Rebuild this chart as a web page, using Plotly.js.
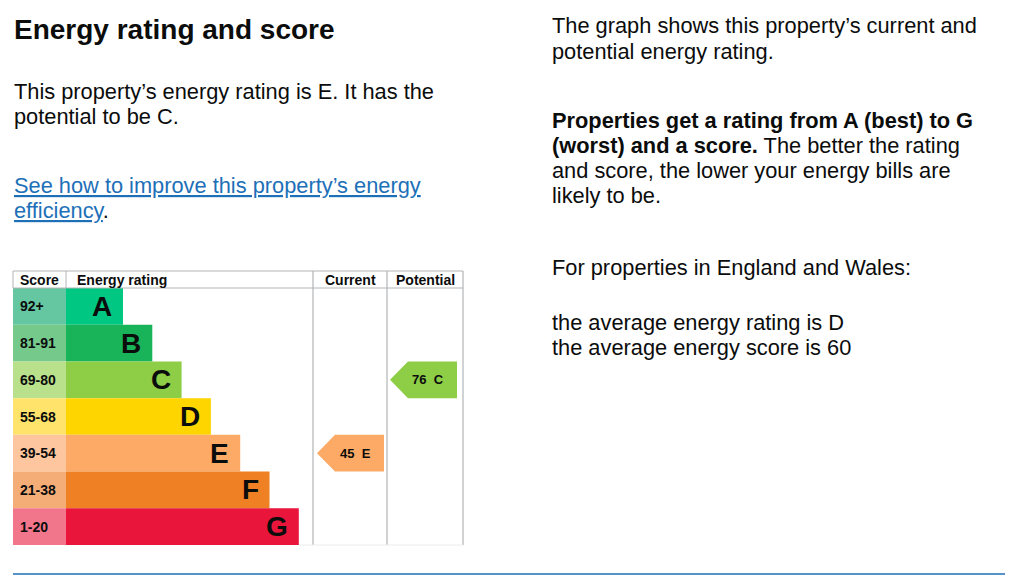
<!DOCTYPE html>
<html>
<head>
<meta charset="utf-8">
<script src="https://cdn.plot.ly/plotly-3.0.1.min.js"></script>
<style>
  html, body { margin: 0; padding: 0; background: #fff; }
  #chart { width: 1020px; height: 575px; }
</style>
</head>
<body>
<div id="chart"></div>
<script>
// ---- data ----
const ratings = ['A', 'B', 'C', 'D', 'E', 'F', 'G'];
const scoreBands = ['92+', '81-91', '69-80', '55-68', '39-54', '21-38', '1-20'];
const bandMin = [92, 81, 69, 55, 39, 21, 1];
const bandColours = ['#00c781', '#19b459', '#8dce46', '#ffd500', '#fcaa65', '#ef8023', '#e9153b'];
const scoreCellColours = ['#64c7a1', '#75c98b', '#b9e08a', '#ffe36b', '#fdc69e', '#f5ad78', '#f2768b'];
const currentScore = 45;
const potentialScore = 76;
const headers = ['Score', 'Energy rating', 'Current', 'Potential'];

// ---- layout constants (pixels) ----
const W = 1020, H = 575;
const FONT = 'Arial, "Liberation Sans", Helvetica, sans-serif';
const TXT = '#0b0c0c';
const GRID = '#b1b4b6';
const BODY = 21.8;
const tableLeft = 13, scoreRight = 66, curLeft = 313, potLeft = 387, tableRight = 463;
const tableTop = 271, headBottom = 288, tableBottom = 545;
const firstBar = 57, barStep = 29.3;

const py = v => 1 - v / H;

function bandIndex(score) {
  for (let i = 0; i < bandMin.length; i++) if (score >= bandMin[i]) return i;
  return bandMin.length - 1;
}
const rows = ratings.map((_, i) => i);
const barLen = rows.map(i => firstBar + barStep * i);

// ---- traces ----
const traces = [];
traces.push({
  type: 'bar', orientation: 'h', y: rows, x: rows.map(() => scoreRight - tableLeft),
  base: tableLeft, width: 1, marker: { color: scoreCellColours, line: { width: 0 } },
  hoverinfo: 'skip', showlegend: false
});
traces.push({
  type: 'bar', orientation: 'h', y: rows, x: barLen,
  base: scoreRight, width: 1, marker: { color: bandColours, line: { width: 0 } },
  hoverinfo: 'skip', showlegend: false
});

function arrow(score, left, right) {
  const r = bandIndex(score);
  const tip = 18;
  return {
    type: 'scatter', mode: 'lines', fill: 'toself', fillcolor: bandColours[r],
    line: { width: 0, color: bandColours[r] },
    x: [left, left + tip, right, right, left + tip, left],
    y: [r, r - 0.5, r - 0.5, r + 0.5, r + 0.5, r],
    hoverinfo: 'skip', showlegend: false
  };
}
traces.push(arrow(currentScore, curLeft + 4, potLeft - 3));
traces.push(arrow(potentialScore, potLeft + 3, tableRight - 6));

// ---- annotations ----
const ann = [];
function txt(text, x, baseline, size, opts) {
  opts = opts || {};
  ann.push(Object.assign({
    text: text, xref: 'x', yref: 'paper', x: x, y: py(baseline - 0.35 * size),
    xanchor: 'left', yanchor: 'middle', showarrow: false, borderpad: 0,
    font: { family: FONT, size: size, color: TXT }, align: 'left'
  }, opts));
}
// left column
txt('<b>Energy rating and score</b>', 13, 39.5, 28);
txt('This property’s energy rating is E. It has the', 13, 98.7, BODY);
txt('potential to be C.', 13, 124.3, BODY);
txt('<span style="text-decoration:underline">See how to improve this property’s energy</span>', 13, 193, BODY, { font: { family: FONT, size: BODY, color: '#1d70b8' } });
txt('<span style="text-decoration:underline;fill:#1d70b8">efficiency</span>.', 13, 218, BODY);
// right column
txt('The graph shows this property’s current and', 551, 33.5, BODY);
txt('potential energy rating.', 551, 59, BODY);
txt('<b>Properties get a rating from A (best) to G</b>', 551, 128, BODY);
txt('<b>(worst) and a score.</b> The better the rating', 551, 153.5, BODY);
txt('and score, the lower your energy bills are', 551, 178.5, BODY);
txt('likely to be.', 551, 203.5, BODY);
txt('For properties in England and Wales:', 551, 275, BODY);
txt('the average energy rating is D', 551, 330, BODY);
txt('the average energy score is 60', 551, 355, BODY);

// table header
txt('<b>' + headers[0] + '</b>', 19, 285, 14);
txt('<b>' + headers[1] + '</b>', 76, 285, 14);
txt('<b>' + headers[2] + '</b>', (curLeft + potLeft) / 2, 285, 14, { xanchor: 'center' });
txt('<b>' + headers[3] + '</b>', (potLeft + tableRight) / 2, 285, 14, { xanchor: 'center' });

// score labels + letters
rows.forEach(i => {
  ann.push({
    text: '<b>' + scoreBands[i] + '</b>', xref: 'x', yref: 'y', x: tableLeft + 6, y: i,
    xanchor: 'left', yanchor: 'middle', showarrow: false, borderpad: 0,
    font: { family: FONT, size: 14, color: TXT }
  });
  ann.push({
    text: '<b>' + ratings[i] + '</b>', xref: 'x', yref: 'y', x: scoreRight + barLen[i] - 10, y: i,
    xanchor: 'right', yanchor: 'middle', showarrow: false, borderpad: 0,
    font: { family: FONT, size: 28, color: TXT }
  });
});
// arrow labels
function arrowLabel(score, left, right) {
  const r = bandIndex(score);
  ann.push({
    text: '<b>' + score + '\u00a0 ' + ratings[r] + '</b>', xref: 'x', yref: 'y',
    x: (left + right) / 2 + 4.5, y: r, xanchor: 'center', yanchor: 'middle',
    showarrow: false, borderpad: 0, font: { family: FONT, size: 13, color: TXT }
  });
}
arrowLabel(currentScore, curLeft + 4, potLeft - 3);
arrowLabel(potentialScore, potLeft + 3, tableRight - 6);

// ---- shapes (table rules) ----
const shapes = [];
function line(x0, y0, x1, y1, color, width) {
  shapes.push({ type: 'line', xref: 'x', yref: 'paper', x0: x0, x1: x1, y0: py(y0), y1: py(y1),
    line: { color: color, width: width }, layer: 'above' });
}
line(tableLeft, tableTop, tableRight, tableTop, GRID, 1);
line(tableLeft, headBottom, tableRight, headBottom, GRID, 1);
line(tableLeft, tableTop, tableLeft, headBottom, GRID, 1);
line(scoreRight, tableTop, scoreRight, headBottom, GRID, 1);
line(curLeft, tableTop, curLeft, tableBottom, GRID, 1.2);
line(potLeft, tableTop, potLeft, tableBottom, GRID, 1.2);
line(tableRight, tableTop, tableRight, tableBottom, GRID, 1.2);
line(299, tableBottom, tableRight, tableBottom, '#ececec', 1);
line(13, 574, 1005, 574, '#1d70b8', 1.5);

const layout = {
  width: W, height: H, margin: { l: 0, r: 0, t: 0, b: 0 },
  paper_bgcolor: '#fff', plot_bgcolor: '#fff',
  barmode: 'overlay', showlegend: false, hovermode: false,
  xaxis: { range: [0, W], domain: [0, 1], visible: false, fixedrange: true },
  yaxis: { range: [6.5, -0.5], domain: [(H - tableBottom) / H, (H - headBottom) / H], visible: false, fixedrange: true },
  annotations: ann, shapes: shapes
};

Plotly.newPlot('chart', traces, layout, { displayModeBar: false, staticPlot: true });
</script>
</body>
</html>
